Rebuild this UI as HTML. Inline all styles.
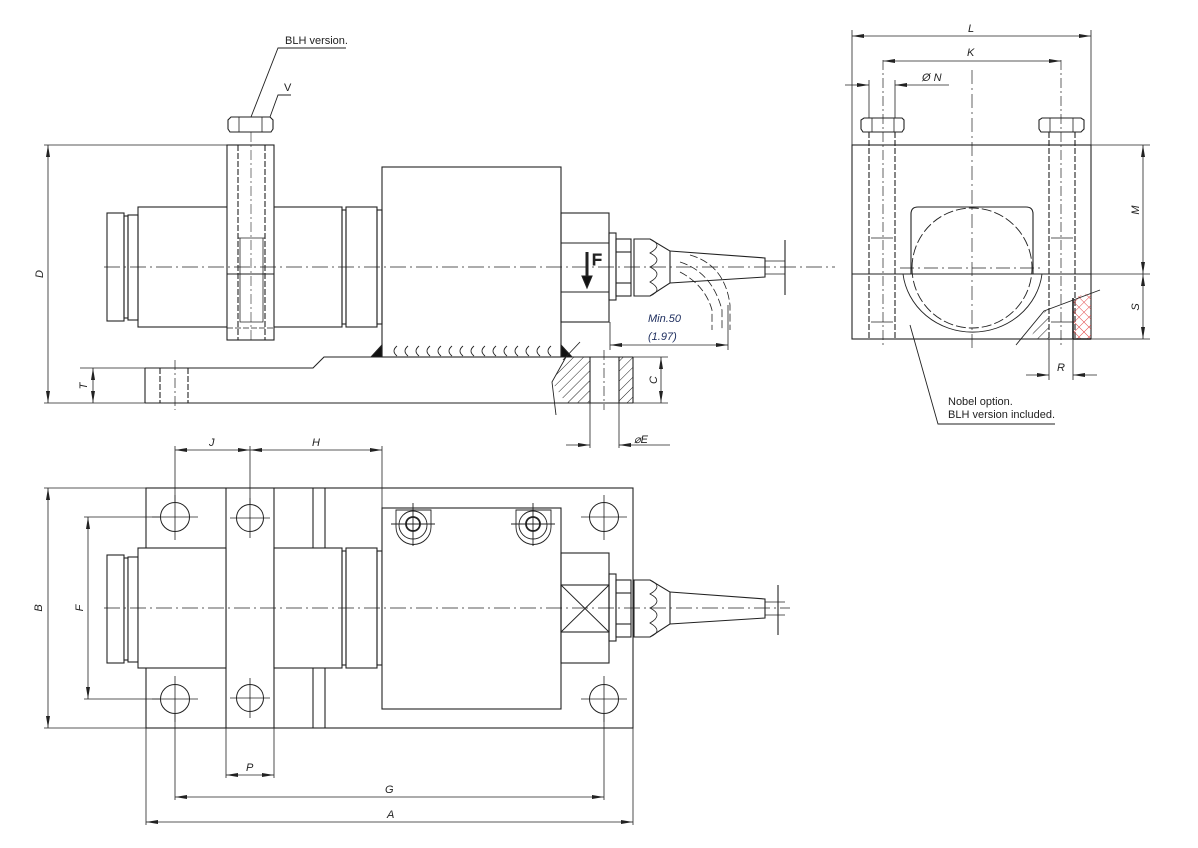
<!DOCTYPE html>
<html><head><meta charset="utf-8"><style>
html,body{margin:0;padding:0;background:#fff;}
svg{display:block;}
text{font-family:"Liberation Sans",sans-serif;font-style:italic;font-size:11px;fill:#222;}
.t{font-style:normal;}
</style></head><body>
<svg width="1198" height="848" viewBox="0 0 1198 848" xmlns="http://www.w3.org/2000/svg">
<defs>
<marker id="a" viewBox="0 0 12 6" refX="12" refY="3" markerWidth="12" markerHeight="6" orient="auto-start-reverse" markerUnits="userSpaceOnUse"><path d="M0,1 L12,3 L0,5 z" fill="#222"/></marker>
<pattern id="h" width="7" height="7" patternUnits="userSpaceOnUse" patternTransform="rotate(45)"><line x1="0" y1="0" x2="0" y2="7" stroke="#222" stroke-width="1"/></pattern>
<pattern id="x" width="7" height="7" patternUnits="userSpaceOnUse" patternTransform="rotate(45)"><line x1="0" y1="0" x2="0" y2="7" stroke="#e03030" stroke-width="0.9"/><line x1="0" y1="0" x2="7" y2="0" stroke="#e03030" stroke-width="0.9"/></pattern>
</defs>
<g fill="none" stroke="#222" stroke-width="1.1">
<!-- ========== FRONT VIEW ========== -->
<!-- D dim -->
<line x1="44" y1="145" x2="228" y2="145" stroke-width="0.8"/>
<line x1="44" y1="403" x2="145" y2="403" stroke-width="0.8"/>
<line x1="48" y1="145" x2="48" y2="403" stroke-width="0.8" marker-start="url(#a)" marker-end="url(#a)"/>
<!-- left cap -->
<rect x="107" y="213" width="17" height="108"/>
<rect x="124" y="216" width="4" height="102"/>
<rect x="128" y="215" width="10" height="105"/>
<rect x="138" y="207" width="204" height="120"/>
<rect x="342" y="210" width="4" height="114"/>
<rect x="346" y="207" width="31" height="120"/>
<rect x="377" y="210" width="5" height="114"/>
<!-- bolt block -->
<rect x="227" y="145" width="47" height="195" fill="#fff"/>
<line x1="227" y1="274" x2="274" y2="274"/>
<path d="M230,132 L228,129 L228,120 L231,117 L270,117 L273,120 L273,129 L271,132 Z"/>
<line x1="239" y1="117" x2="239" y2="132" stroke-width="0.8"/><line x1="262" y1="117" x2="262" y2="132" stroke-width="0.8"/>
<line x1="238" y1="145" x2="238" y2="340" stroke-dasharray="6 2"/>
<line x1="265" y1="145" x2="265" y2="340" stroke-dasharray="6 2"/>
<path d="M238,238 L265,238 M240,238 L240,322 L263,322 L263,238" stroke-width="0.8"/>
<line x1="227" y1="328" x2="274" y2="328" stroke-dasharray="6 2" stroke-width="0.8"/>
<line x1="251" y1="132" x2="251" y2="340" stroke-dasharray="10 3 2 3" stroke-width="0.6"/>
<!-- big box -->
<rect x="382" y="167" width="179" height="190"/>
<!-- connector block -->
<rect x="561" y="213" width="48" height="109"/>
<line x1="561" y1="243" x2="609" y2="243"/><line x1="561" y1="292" x2="609" y2="292"/>
<line x1="587" y1="252" x2="587" y2="278" stroke-width="3"/>
<path d="M582,276 L592,276 L587,288 Z" fill="#111"/>
<text x="592" y="265" class="t" style="font-size:16px">F</text>
<!-- nut / cable front -->
<rect x="609" y="233" width="7" height="67"/>
<rect x="616" y="239" width="15" height="57"/>
<line x1="616" y1="252" x2="631" y2="252"/><line x1="616" y1="283" x2="631" y2="283"/>
<path d="M634,239 L650,239 L670,251 L670,283 L650,296 L634,296 Z"/>
<path d="M650,239 Q664,245 650,253 Q664,260 650,267 Q664,274 650,282 Q664,290 650,296" stroke-width="0.8"/>
<path d="M670,251 L765,258 L765,277 L670,283"/>
<path d="M765,261 L785,261 M765,274 L785,274" stroke-width="0.8"/>
<line x1="785" y1="240" x2="785" y2="295"/>
<path d="M680,262 Q712,272 722,310 L722,330 M680,272 Q705,285 712,310 L712,330 M690,255 Q725,265 730,305 L730,330" stroke-dasharray="8 3" stroke-width="0.8"/>
<!-- base plate -->
<path d="M145,368 L313,368 L324,357 L633,357"/>
<line x1="145" y1="403" x2="633" y2="403"/>
<line x1="145" y1="368" x2="145" y2="403"/>
<line x1="160" y1="368" x2="160" y2="403" stroke-dasharray="6 2"/>
<line x1="188" y1="368" x2="188" y2="403" stroke-dasharray="6 2"/>
<line x1="175" y1="360" x2="175" y2="410" stroke-dasharray="10 3 2 3" stroke-width="0.7"/>
<!-- T dim -->
<line x1="80" y1="368" x2="145" y2="368" stroke-width="0.8"/>
<line x1="93" y1="368" x2="93" y2="403" stroke-width="0.8" marker-start="url(#a)" marker-end="url(#a)"/>
<!-- weld -->
<path d="M371,357 L382,345 L382,357 Z" fill="#111"/>
<path d="M561,345 L572,357 L561,357 Z" fill="#111"/>
<g stroke-width="0.9">
<path d="M397,346 Q391,351 397,356"/><path d="M408,346 Q402,351 408,356"/><path d="M419,346 Q413,351 419,356"/><path d="M430,346 Q424,351 430,356"/><path d="M441,346 Q435,351 441,356"/><path d="M452,346 Q446,351 452,356"/><path d="M463,346 Q457,351 463,356"/><path d="M474,346 Q468,351 474,356"/><path d="M485,346 Q479,351 485,356"/><path d="M496,346 Q490,351 496,356"/><path d="M507,346 Q501,351 507,356"/><path d="M518,346 Q512,351 518,356"/><path d="M529,346 Q523,351 529,356"/><path d="M540,346 Q534,351 540,356"/><path d="M551,346 Q545,351 551,356"/>
</g>
<line x1="563" y1="360" x2="580" y2="342" stroke-width="0.9"/>
<!-- right section -->
<path d="M566,357 L590,357 L590,403 L566,403 L552,382 Z" fill="url(#h)" stroke="none"/>
<path d="M619,357 L633,357 L633,403 L619,403 Z" fill="url(#h)" stroke="none"/>
<path d="M566,357 L552,382 L556,415" stroke-width="0.9"/>
<line x1="590" y1="357" x2="590" y2="403"/><line x1="619" y1="357" x2="619" y2="403"/><line x1="633" y1="357" x2="633" y2="403"/>
<line x1="604" y1="350" x2="604" y2="410" stroke-dasharray="10 3 2 3" stroke-width="0.7"/>
<!-- C dim -->
<line x1="633" y1="357" x2="668" y2="357" stroke-width="0.8"/><line x1="633" y1="403" x2="668" y2="403" stroke-width="0.8"/>
<line x1="661" y1="357" x2="661" y2="403" stroke-width="0.8" marker-start="url(#a)" marker-end="url(#a)"/>
<!-- E dim -->
<line x1="590" y1="403" x2="590" y2="448" stroke-width="0.8"/><line x1="619" y1="403" x2="619" y2="448" stroke-width="0.8"/>
<line x1="566" y1="445" x2="590" y2="445" stroke-width="0.8" marker-end="url(#a)"/>
<line x1="670" y1="445" x2="619" y2="445" stroke-width="0.8" marker-end="url(#a)"/>
<!-- Min50 dim -->
<line x1="610" y1="322" x2="610" y2="350" stroke-width="0.8"/>
<line x1="728" y1="305" x2="728" y2="350" stroke-width="0.8"/>
<line x1="610" y1="345" x2="728" y2="345" stroke-width="0.8" marker-start="url(#a)" marker-end="url(#a)"/>
<!-- centerline front -->
<line x1="104" y1="267" x2="835" y2="267" stroke-dasharray="16 4 2 4" stroke-width="0.7"/>
<!-- leaders -->
<path d="M346,48 L278,48 L251,117" stroke-width="0.9"/>
<path d="M291,95 L278,95 L270,117" stroke-width="0.9"/>

<!-- ========== END VIEW ========== -->
<rect x="852" y="145" width="239" height="194"/>
<line x1="852" y1="274" x2="1091" y2="274"/>
<path d="M911,274 L911,214 Q911,207 918,207 L1026,207 Q1033,207 1033,214 L1033,274"/>
<path d="M912,268 A60,60 0 0 1 1032,268" stroke-dasharray="10 3" stroke-width="0.9"/>
<path d="M912,268 A60,60 0 0 0 1032,268" stroke-dasharray="10 3" stroke-width="0.9"/>
<path d="M903,274 A70,66 0 0 0 1042,274" stroke-width="0.9"/>
<!-- bolts -->
<path d="M863,132 L861,129 L861,120 L864,118 L902,118 L904,120 L904,129 L902,132 Z"/>
<line x1="872" y1="118" x2="872" y2="132" stroke-width="0.8"/><line x1="894" y1="118" x2="894" y2="132" stroke-width="0.8"/>
<path d="M1041,132 L1039,129 L1039,120 L1042,118 L1081,118 L1084,120 L1084,129 L1081,132 Z"/>
<line x1="1050" y1="118" x2="1050" y2="132" stroke-width="0.8"/><line x1="1073" y1="118" x2="1073" y2="132" stroke-width="0.8"/>
<g stroke-dasharray="6 2">
<line x1="869" y1="132" x2="869" y2="339"/><line x1="895" y1="132" x2="895" y2="339"/>
<line x1="1049" y1="132" x2="1049" y2="339"/><line x1="1075" y1="132" x2="1075" y2="339"/>
</g>
<path d="M871,238 L893,238 M871,322 L893,322 M1051,238 L1073,238 M1051,322 L1073,322" stroke-width="0.8"/>
<line x1="883" y1="60" x2="883" y2="345" stroke-dasharray="10 3 2 3" stroke-width="0.7"/>
<line x1="1061" y1="60" x2="1061" y2="345" stroke-dasharray="10 3 2 3" stroke-width="0.7"/>
<line x1="972" y1="70" x2="972" y2="350" stroke-dasharray="14 4 2 4" stroke-width="0.7"/>
<line x1="900" y1="268" x2="1040" y2="268" stroke-dasharray="14 4 2 4" stroke-width="0.7"/>
<!-- section right -->
<path d="M1073,298 L1091,292 L1091,339 L1073,339 Z" fill="url(#x)" stroke="none"/>
<path d="M1045,311 L1049,311 L1049,339 L1030,339 Z" fill="url(#h)" stroke="none"/>
<path d="M1016,345 L1044,311 L1100,290" stroke-width="0.9"/>
<line x1="1073" y1="298" x2="1073" y2="339" stroke-width="1.6"/>
<line x1="1073" y1="339" x2="1091" y2="339" stroke-width="1.6"/>
<!-- L K N dims -->
<line x1="852" y1="30" x2="852" y2="145" stroke-width="0.8"/>
<line x1="1091" y1="30" x2="1091" y2="145" stroke-width="0.8"/>
<line x1="852" y1="36" x2="1091" y2="36" stroke-width="0.8" marker-start="url(#a)" marker-end="url(#a)"/>
<line x1="883" y1="61" x2="1061" y2="61" stroke-width="0.8" marker-start="url(#a)" marker-end="url(#a)"/>
<line x1="869" y1="80" x2="869" y2="118" stroke-width="0.8"/>
<line x1="895" y1="80" x2="895" y2="118" stroke-width="0.8"/>
<line x1="845" y1="85" x2="869" y2="85" stroke-width="0.8" marker-end="url(#a)"/>
<line x1="949" y1="85" x2="895" y2="85" stroke-width="0.8" marker-end="url(#a)"/>
<!-- M S dims -->
<line x1="1091" y1="145" x2="1150" y2="145" stroke-width="0.8"/>
<line x1="1091" y1="274" x2="1150" y2="274" stroke-width="0.8"/>
<line x1="1091" y1="339" x2="1150" y2="339" stroke-width="0.8"/>
<line x1="1143" y1="145" x2="1143" y2="274" stroke-width="0.8" marker-start="url(#a)" marker-end="url(#a)"/>
<line x1="1143" y1="274" x2="1143" y2="339" stroke-width="0.8" marker-start="url(#a)" marker-end="url(#a)"/>
<!-- R dim -->
<line x1="1049" y1="339" x2="1049" y2="380" stroke-width="0.8"/>
<line x1="1073" y1="339" x2="1073" y2="380" stroke-width="0.8"/>
<line x1="1026" y1="375" x2="1049" y2="375" stroke-width="0.8" marker-end="url(#a)"/>
<line x1="1097" y1="375" x2="1073" y2="375" stroke-width="0.8" marker-end="url(#a)"/>
<!-- nobel leader -->
<path d="M910,325 L938,424 L1055,424" stroke-width="0.9"/>

<!-- ========== TOP VIEW ========== -->
<rect x="146" y="488" width="487" height="240"/>
<line x1="226" y1="488" x2="226" y2="728"/><line x1="274" y1="488" x2="274" y2="728"/>
<line x1="313" y1="488" x2="313" y2="548"/><line x1="325" y1="488" x2="325" y2="548"/>
<line x1="313" y1="668" x2="313" y2="728"/><line x1="325" y1="668" x2="325" y2="728"/>
<rect x="107" y="555" width="17" height="108" fill="#fff"/>
<rect x="124" y="558" width="4" height="102" fill="#fff"/>
<rect x="128" y="557" width="10" height="105" fill="#fff"/>
<rect x="138" y="548" width="88" height="120" fill="#fff"/>
<rect x="274" y="548" width="68" height="120" fill="#fff"/>
<rect x="342" y="551" width="4" height="114"/>
<rect x="346" y="548" width="31" height="120"/>
<rect x="377" y="551" width="5" height="114"/>
<rect x="382" y="508" width="179" height="201" fill="#fff"/>
<!-- holes -->
<g stroke-width="1">
<circle cx="175" cy="517" r="14.5"/><circle cx="250" cy="518" r="13.5"/><circle cx="604" cy="517" r="14.5"/>
<circle cx="175" cy="699" r="14.5"/><circle cx="250" cy="698" r="13.5"/><circle cx="604" cy="699" r="14.5"/>
</g>
<g stroke-width="0.8">
<path d="M152,517 L198,517 M175,495 L175,540 M230,518 L270,518 M250,498 L250,538 M581,517 L627,517 M604,495 L604,540"/>
<path d="M152,699 L198,699 M175,676 L175,722 M230,698 L270,698 M250,678 L250,718 M581,699 L627,699 M604,676 L604,722"/>
</g>
<!-- screws -->
<g stroke-width="0.9">
<path d="M396,510 L431,510 L431,527 A17.5,17.5 0 0 1 396,527 Z"/>
<circle cx="413" cy="525" r="14"/>
<circle cx="413" cy="524" r="7" stroke-width="1.8"/>
<path d="M391,524 L435,524 M413,503 L413,546"/>
<path d="M516,510 L551,510 L551,527 A17.5,17.5 0 0 1 516,527 Z"/>
<circle cx="533" cy="525" r="14"/>
<circle cx="533" cy="524" r="7" stroke-width="1.8"/>
<path d="M511,524 L555,524 M533,503 L533,546"/>
</g>
<!-- connector top -->
<rect x="561" y="553" width="48" height="110"/>
<rect x="561" y="585" width="48" height="47"/>
<path d="M561,585 L609,632 M609,585 L561,632" stroke-width="0.9"/>
<rect x="609" y="574" width="7" height="67"/>
<rect x="616" y="580" width="15" height="57"/>
<line x1="616" y1="593" x2="631" y2="593"/><line x1="616" y1="624" x2="631" y2="624"/>
<path d="M634,580 L650,580 L670,592 L670,624 L650,637 L634,637 Z"/>
<path d="M650,580 Q664,586 650,594 Q664,601 650,608 Q664,615 650,623 Q664,631 650,637" stroke-width="0.8"/>
<path d="M670,592 L765,599 L765,618 L670,624"/>
<path d="M765,602 L785,602 M765,615 L785,615" stroke-width="0.8"/>
<line x1="778" y1="585" x2="778" y2="635"/>
<line x1="104" y1="608" x2="790" y2="608" stroke-dasharray="16 4 2 4" stroke-width="0.7"/>
<!-- J H dims -->
<line x1="175" y1="446" x2="175" y2="502" stroke-width="0.8"/>
<line x1="250" y1="446" x2="250" y2="504" stroke-width="0.8"/>
<line x1="382" y1="446" x2="382" y2="508" stroke-width="0.8"/>
<line x1="175" y1="450" x2="250" y2="450" stroke-width="0.8" marker-start="url(#a)" marker-end="url(#a)"/>
<line x1="250" y1="450" x2="382" y2="450" stroke-width="0.8" marker-start="url(#a)" marker-end="url(#a)"/>
<!-- B F dims -->
<line x1="44" y1="488" x2="146" y2="488" stroke-width="0.8"/>
<line x1="44" y1="728" x2="146" y2="728" stroke-width="0.8"/>
<line x1="48" y1="488" x2="48" y2="728" stroke-width="0.8" marker-start="url(#a)" marker-end="url(#a)"/>
<line x1="84" y1="517" x2="160" y2="517" stroke-width="0.8"/>
<line x1="84" y1="699" x2="160" y2="699" stroke-width="0.8"/>
<line x1="88" y1="517" x2="88" y2="699" stroke-width="0.8" marker-start="url(#a)" marker-end="url(#a)"/>
<!-- P G A dims -->
<line x1="226" y1="728" x2="226" y2="778" stroke-width="0.8"/>
<line x1="274" y1="728" x2="274" y2="778" stroke-width="0.8"/>
<line x1="226" y1="775" x2="274" y2="775" stroke-width="0.8" marker-start="url(#a)" marker-end="url(#a)"/>
<line x1="175" y1="714" x2="175" y2="800" stroke-width="0.8"/>
<line x1="604" y1="714" x2="604" y2="800" stroke-width="0.8"/>
<line x1="175" y1="797" x2="604" y2="797" stroke-width="0.8" marker-start="url(#a)" marker-end="url(#a)"/>
<line x1="146" y1="728" x2="146" y2="825" stroke-width="0.8"/>
<line x1="633" y1="728" x2="633" y2="825" stroke-width="0.8"/>
<line x1="146" y1="822" x2="633" y2="822" stroke-width="0.8" marker-start="url(#a)" marker-end="url(#a)"/>
</g>
<!-- texts -->
<text x="285" y="44" class="t">BLH version.</text>
<text x="284" y="91" class="t">V</text>
<text transform="translate(43,274) rotate(-90)" text-anchor="middle">D</text>
<text transform="translate(87,386) rotate(-90)" text-anchor="middle">T</text>
<text transform="translate(657,380) rotate(-90)" text-anchor="middle">C</text>
<text x="634" y="443">⌀E</text>
<text x="648" y="322" style="fill:#203060">Min.50</text>
<text x="648" y="340" style="fill:#203060">(1.97)</text>
<text x="968" y="32">L</text>
<text x="967" y="56">K</text>
<text x="922" y="81">Ø N</text>
<text transform="translate(1139,210) rotate(-90)" text-anchor="middle">M</text>
<text transform="translate(1139,307) rotate(-90)" text-anchor="middle">S</text>
<text x="1057" y="371">R</text>
<text x="948" y="405" class="t">Nobel option.</text>
<text x="948" y="418" class="t">BLH version included.</text>
<text x="209" y="446">J</text>
<text x="312" y="446">H</text>
<text transform="translate(42,608) rotate(-90)" text-anchor="middle">B</text>
<text transform="translate(83,608) rotate(-90)" text-anchor="middle">F</text>
<text x="246" y="771">P</text>
<text x="385" y="793">G</text>
<text x="387" y="818">A</text>
</svg>
</body></html>
